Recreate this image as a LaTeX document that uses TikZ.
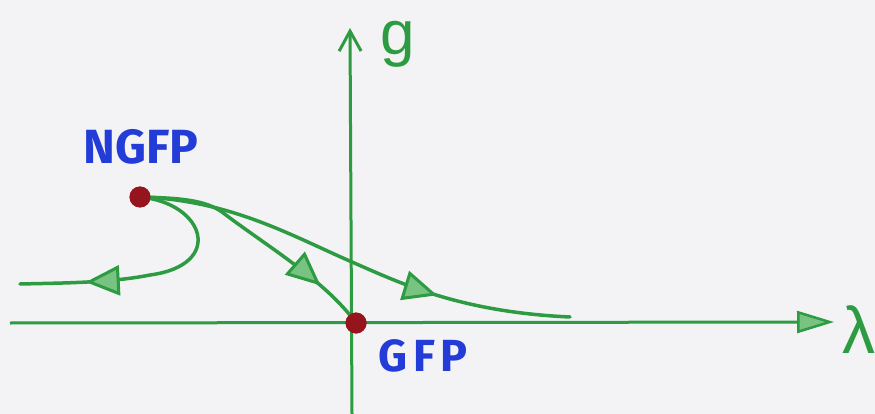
\documentclass[tikz,border=0pt]{standalone}
\usepackage{fontspec}
\setmainfont{Fira Sans}
\newfontfamily\handfont{Liberation Sans}
\usetikzlibrary{arrows.meta,decorations.markings}
\definecolor{pen}{RGB}{45,155,65}
\definecolor{penlight}{RGB}{120,195,130}
\definecolor{ink}{RGB}{35,60,215}
\definecolor{dotred}{RGB}{150,20,30}
\definecolor{paper}{RGB}{243,243,246}
\begin{document}
\begin{tikzpicture}[x=1pt,y=-1pt,
  axis/.style={pen, line width=3pt},
  flow/.style={pen, line width=3.5pt, line cap=round},
  fp/.style={circle, fill=dotred, minimum size=21pt, inner sep=0pt},
  lbl/.style={ink, inner sep=0pt},
  midarrow/.style={postaction={decorate}, decoration={markings, mark=at position #1 with {\arrow{Triangle[length=34pt,width=30pt,fill=penlight,line width=3pt]}}}}
]
\fill[paper] (0,0) rectangle (875,414);
\useasboundingbox (0,0) rectangle (875,414);
% axes
\coordinate (xs) at (10,323);
\coordinate (xe) at (834,322);
\coordinate (ys) at (352,414);
\coordinate (ye) at (350,28);
\draw[axis, -{Triangle[length=37pt,width=22pt,fill=penlight,line width=2.5pt]}] (xs) -- (xe);
\draw[axis, -{Straight Barb[length=20pt,width=22pt,line width=3pt]}] (ys) -- (ye);
% fixed points
\node[fp] (ngfp) at (140,197) {};
\node[fp] (gfp) at (356,323) {};
% flows
\coordinate (l1) at (150,275);
\coordinate (lend) at (20,284);
\coordinate (m2) at (222,212);
\coordinate (m3) at (352,262);
\coordinate (rend) at (570,317);
\draw[flow, midarrow=0.76] (ngfp.center) .. controls (205,203) and (225,265) .. (l1) .. controls (110,283) and (60,283) .. (lend);
\draw[flow, midarrow=0.8] (ngfp.center) .. controls (180,198) and (205,200) .. (m2) .. controls (265,245) and (325,280) .. (gfp.center);
\draw[flow, midarrow=0.7] (ngfp.center) .. controls (230,200) and (290,235) .. (m3) .. controls (400,283) and (460,312) .. (rend);
\node[fp] at (ngfp) {};
\node[fp] at (gfp) {};
% labels
\node[lbl, font=\fontsize{48}{48}\selectfont\bfseries] (nl) at (141,147) {NGFP};
\node[lbl, font=\fontsize{45}{45}\selectfont\bfseries\addfontfeature{LetterSpace=12}] (gl) at (423,356) {GFP};
\node[pen, inner sep=0pt, font=\handfont\fontsize{62}{62}\selectfont] (gg) at (398,44) {g};
\node[pen, inner sep=0pt, anchor=west, font=\handfont\fontsize{66}{66}\selectfont] (lam) at (842,330) {λ};
\end{tikzpicture}
\end{document}
